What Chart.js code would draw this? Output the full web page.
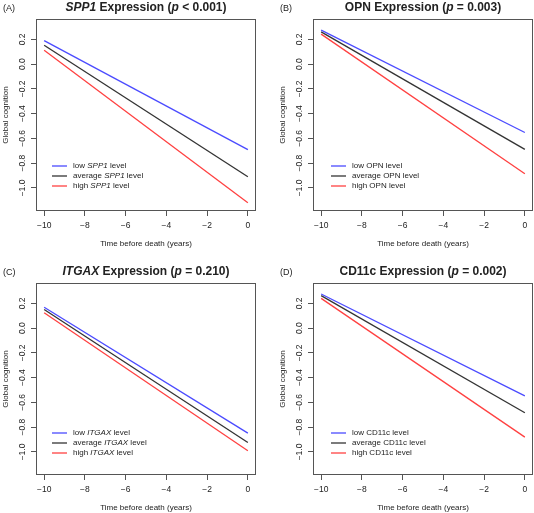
<!DOCTYPE html>
<html>
<head>
<meta charset="utf-8">
<script src="https://cdn.jsdelivr.net/npm/chart.js@4.4.1/dist/chart.umd.min.js"></script>
<style>
  html, body { margin: 0; padding: 0; background: #fff; overflow: hidden; }
  #wrap { position: relative; width: 534px; height: 513px; overflow: hidden; }
  canvas { position: absolute; }
</style>
</head>
<body>
<div id="wrap">
  <canvas id="panelA" width="270" height="257" style="left:0px;top:0px"></canvas>
  <canvas id="panelB" width="270" height="257" style="left:277px;top:0px"></canvas>
  <canvas id="panelC" width="270" height="257" style="left:0px;top:264px"></canvas>
  <canvas id="panelD" width="270" height="257" style="left:277px;top:264px"></canvas>
</div>
<script>
// data
const years = [-10, 0]
const xTickValues = [-10, -8, -6, -4, -2, 0]
const yTickValues = [-1.0, -0.8, -0.6, -0.4, -0.2, 0.0, 0.2]
const xMin = -10.4, xMax = 0.4
const yMin = -1.186, yMax = 0.364

const panelLabels = ['(A)', '(B)', '(C)', '(D)']
const genes = ['SPP1', 'OPN', 'ITGAX', 'CD11c']
const geneItalic = [true, false, true, false]
const pValues = ['< 0.001', '= 0.003', '= 0.210', '= 0.002']
const levels = ['low', 'average', 'high']

const spp1Low = [0.190, -0.690]
const spp1Avg = [0.152, -0.910]
const spp1High = [0.112, -1.120]
const opnLow = [0.274, -0.552]
const opnAvg = [0.260, -0.688]
const opnHigh = [0.242, -0.886]
const itgaxLow = [0.168, -0.848]
const itgaxAvg = [0.150, -0.923]
const itgaxHigh = [0.124, -0.990]
const cd11cLow = [0.275, -0.547]
const cd11cAvg = [0.262, -0.683]
const cd11cHigh = [0.240, -0.880]

const series = [
  [spp1Low, spp1Avg, spp1High],
  [opnLow, opnAvg, opnHigh],
  [itgaxLow, itgaxAvg, itgaxHigh],
  [cd11cLow, cd11cAvg, cd11cHigh]
]

// look
const lineColors = ['#4b4bff', '#333333', '#ff4141']
const fontFamily = "'Liberation Sans', Arial, Helvetica, sans-serif"
const textColor = '#222'
const axisColor = '#555'
const canvasIds = ['panelA', 'panelB', 'panelC', 'panelD']
const legendPos = [[52, 166], [54, 166], [52, 169], [54, 169]]

Chart.defaults.font.family = fontFamily
Chart.defaults.color = textColor

const minus = s => s.replace('-', '\u2212')

// box, title, panel letter and legend (mixed italic text, so drawn here)
const panelDeco = {
  id: 'panelDeco',
  beforeDatasetsDraw(chart) {
    const {ctx, chartArea: a} = chart
    ctx.save()
    ctx.strokeStyle = axisColor
    ctx.lineWidth = 1
    ctx.strokeRect(a.left + 0.5, a.top + 0.5, a.right - a.left - 1, a.bottom - a.top - 1)
    ctx.restore()
  },
  afterDraw(chart, args, opts) {
    const {ctx, chartArea: a} = chart
    ctx.save()
    ctx.fillStyle = textColor
    ctx.textBaseline = 'middle'
    ctx.textAlign = 'left'
    const ty = a.top - 11.5

    ctx.font = `9px ${fontFamily}`
    ctx.fillText(opts.label, 3, ty + 1)

    const titleFont = it => `${it ? 'italic ' : ''}bold 12px ${fontFamily}`
    let total = 0
    opts.title.forEach(([t, it]) => { ctx.font = titleFont(it); total += ctx.measureText(t).width })
    let x = (a.left + a.right) / 2 - total / 2
    opts.title.forEach(([t, it]) => {
      ctx.font = titleFont(it)
      ctx.fillText(t, x, ty)
      x += ctx.measureText(t).width
    })

    const legFont = it => `${it ? 'italic ' : ''}8px ${fontFamily}`
    const [lx, ly] = opts.legendPos
    chart.data.datasets.forEach((ds, i) => {
      const y = ly + i * 10
      ctx.strokeStyle = ds.borderColor
      ctx.lineWidth = 1.3
      ctx.beginPath()
      ctx.moveTo(lx, y)
      ctx.lineTo(lx + 15, y)
      ctx.stroke()
      const parts = [[ds.level + ' ', false], [opts.gene, opts.italic], [' level', false]]
      let tx = lx + 21
      parts.forEach(([t, it]) => {
        ctx.font = legFont(it)
        ctx.fillText(t, tx, y)
        tx += ctx.measureText(t).width
      })
    })
    ctx.restore()
  }
}

const makePanel = (idx) => {
  const gene = genes[idx]
  const title = [
    [gene, geneItalic[idx]],
    [' Expression (', false],
    ['p', true],
    [' ' + pValues[idx] + ')', false]
  ]
  const datasets = series[idx].map((vals, j) => ({
    label: levels[j] + ' ' + gene + ' level',
    level: levels[j],
    data: years.map((yr, k) => ({x: yr, y: vals[k]})),
    borderColor: lineColors[j],
    borderWidth: 1.3,
    pointRadius: 0,
    tension: 0,
    fill: false
  }))

  return new Chart(document.getElementById(canvasIds[idx]), {
    type: 'line',
    data: {datasets},
    plugins: [panelDeco],
    options: {
      responsive: false,
      animation: false,
      devicePixelRatio: 1,
      layout: {padding: {left: 0, top: 19, right: 14, bottom: 0}},
      plugins: {
        legend: {display: false},
        tooltip: {enabled: false},
        panelDeco: {
          label: panelLabels[idx],
          title: title,
          gene: gene,
          italic: geneItalic[idx],
          legendPos: legendPos[idx]
        }
      },
      scales: {
        x: {
          type: 'linear',
          min: xMin,
          max: xMax,
          afterBuildTicks: s => { s.ticks = xTickValues.map(v => ({value: v})) },
          afterFit: s => { s.height = 46 },
          grid: {drawOnChartArea: false, tickLength: 5, color: axisColor},
          border: {display: false},
          ticks: {
            padding: 4.5, maxRotation: 0, autoSkip: false, color: textColor,
            font: {size: 8.5},
            callback: v => minus(String(v))
          },
          title: {
            display: true, text: 'Time before death (years)', color: textColor,
            font: {size: 8}, padding: {top: 0, bottom: 8}
          }
        },
        y: {
          type: 'linear',
          min: yMin,
          max: yMax,
          afterBuildTicks: s => { s.ticks = yTickValues.map(v => ({value: v})) },
          afterFit: s => { s.width = 36 },
          grid: {drawOnChartArea: false, tickLength: 5, color: axisColor},
          border: {display: false},
          ticks: {
            padding: 0, minRotation: 90, maxRotation: 90, crossAlign: 'center',
            autoSkip: false, color: textColor, font: {size: 8.5},
            callback: v => minus(v.toFixed(1))
          },
          title: {
            display: true, text: 'Global cognition', color: textColor,
            font: {size: 8}, padding: {top: 0.5, bottom: 0}
          }
        }
      }
    }
  })
}

genes.forEach((g, i) => makePanel(i))
</script>
</body>
</html>
